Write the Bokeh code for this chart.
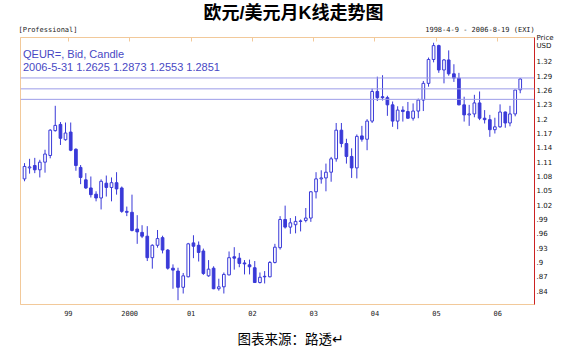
import pandas as pd
from bokeh.plotting import figure
from bokeh.models import (ColumnDataSource, Range1d, LinearAxis, FixedTicker,
                          CustomJSTickFormatter, Span, Label, Title)
from bokeh.embed import file_html
from bokeh.resources import INLINE

# ---------------- data (monthly EUR/USD candles, Apr 1998 - May 2006) ----------------
first_month = "1998-04-01"

opens = [
    1.076, 1.099, 1.104, 1.095, 1.111, 1.125, 1.177, 1.190, 1.158,
    1.174, 1.138, 1.100, 1.074, 1.057, 1.044, 1.036, 1.067, 1.058, 1.068, 1.057, 1.008,
    1.006, 0.971, 0.964, 0.956, 0.911, 0.937, 0.953, 0.927, 0.889, 0.883, 0.849, 0.871,
    0.942, 0.937, 0.925, 0.873, 0.889, 0.846, 0.850, 0.875, 0.913, 0.910, 0.900, 0.896,
    0.890, 0.859, 0.872, 0.871, 0.901, 0.932, 0.991, 0.975, 0.980, 0.988, 0.989, 0.994,
    1.049, 1.076, 1.078, 1.090, 1.118, 1.178, 1.150, 1.123, 1.099, 1.166, 1.159, 1.197,
    1.259, 1.248, 1.246, 1.231, 1.197, 1.220, 1.217, 1.203, 1.218, 1.241, 1.276, 1.326,
    1.355, 1.304, 1.325, 1.296, 1.287, 1.231, 1.210, 1.212, 1.235, 1.203, 1.200, 1.179,
    1.185, 1.216, 1.193, 1.212, 1.2625]
highs = [
    1.109, 1.118, 1.120, 1.116, 1.137, 1.180, 1.229, 1.195, 1.194,
    1.194, 1.140, 1.105, 1.088, 1.081, 1.050, 1.075, 1.083, 1.079, 1.090, 1.060, 1.018,
    1.043, 1.000, 0.979, 0.977, 0.939, 0.969, 0.957, 0.929, 0.897, 0.890, 0.879, 0.942,
    0.958, 0.945, 0.930, 0.906, 0.893, 0.867, 0.880, 0.924, 0.933, 0.921, 0.906, 0.907,
    0.904, 0.880, 0.883, 0.904, 0.940, 0.998, 1.020, 0.994, 0.998, 0.991, 1.015, 1.050,
    1.090, 1.094, 1.108, 1.122, 1.193, 1.193, 1.160, 1.140, 1.169, 1.187, 1.201, 1.265,
    1.290, 1.293, 1.250, 1.238, 1.228, 1.228, 1.237, 1.234, 1.244, 1.281, 1.330, 1.361,
    1.357, 1.327, 1.345, 1.316, 1.298, 1.248, 1.231, 1.252, 1.259, 1.220, 1.210, 1.204,
    1.232, 1.217, 1.229, 1.262, 1.2873]
lows = [
    1.071, 1.087, 1.088, 1.079, 1.089, 1.119, 1.175, 1.147, 1.156,
    1.134, 1.093, 1.065, 1.055, 1.037, 1.029, 1.012, 1.039, 1.029, 1.043, 1.005, 0.998,
    0.966, 0.940, 0.952, 0.904, 0.888, 0.932, 0.920, 0.886, 0.846, 0.822, 0.836, 0.870,
    0.910, 0.903, 0.875, 0.871, 0.845, 0.842, 0.836, 0.874, 0.886, 0.891, 0.876, 0.876,
    0.858, 0.857, 0.857, 0.870, 0.899, 0.928, 0.972, 0.961, 0.962, 0.966, 0.985, 0.986,
    1.035, 1.066, 1.050, 1.070, 1.112, 1.142, 1.108, 1.078, 1.077, 1.154, 1.136, 1.193,
    1.239, 1.240, 1.208, 1.185, 1.180, 1.196, 1.202, 1.198, 1.203, 1.218, 1.269, 1.320,
    1.298, 1.276, 1.292, 1.279, 1.230, 1.196, 1.187, 1.205, 1.199, 1.192, 1.164, 1.171,
    1.183, 1.183, 1.186, 1.207, 1.2553]
closes = [
    1.102, 1.101, 1.095, 1.111, 1.128, 1.178, 1.188, 1.161, 1.172,
    1.136, 1.104, 1.079, 1.057, 1.043, 1.036, 1.071, 1.058, 1.068, 1.055, 1.008, 1.006,
    0.968, 0.965, 0.956, 0.911, 0.937, 0.951, 0.927, 0.889, 0.885, 0.849, 0.873, 0.940,
    0.935, 0.922, 0.878, 0.887, 0.846, 0.850, 0.876, 0.911, 0.910, 0.899, 0.898, 0.892,
    0.859, 0.870, 0.871, 0.901, 0.933, 0.991, 0.975, 0.984, 0.987, 0.987, 0.994, 1.049,
    1.076, 1.078, 1.090, 1.118, 1.178, 1.150, 1.123, 1.099, 1.165, 1.159, 1.197, 1.259,
    1.246, 1.246, 1.231, 1.197, 1.220, 1.217, 1.203, 1.218, 1.241, 1.276, 1.326, 1.355,
    1.304, 1.325, 1.296, 1.287, 1.231, 1.210, 1.212, 1.235, 1.203, 1.200, 1.179, 1.185,
    1.216, 1.193, 1.212, 1.262, 1.2851]

year_ticks = ["1999-01-01", "2000-01-01", "2001-01-01", "2002-01-01",
              "2003-01-01", "2004-01-01", "2005-01-01", "2006-01-01"]
year_labels = ["99", "2000", "01", "02", "03", "04", "05", "06"]

y_ticks = [1.3636, 1.32, 1.29, 1.26, 1.23, 1.20, 1.17, 1.14, 1.11, 1.08, 1.05,
           1.02, 0.99, 0.96, 0.93, 0.90, 0.87, 0.84]
y_labels = ["Price\nUSD", "1.32", "1.29", "1.26", "1.23", "1.2", "1.17", "1.14", "1.11",
            "1.08", "1.05", "1.02", ".99", ".96", ".93", ".9", ".87", ".84"]

ref_lines = [1.2873, 1.2645, 1.2425]

title_text = "欧元/美元月K线走势图"
source_text = "图表来源：路透↵"
header_texts = ["[Professional]", "1998-4-9 - 2006-8-19 (EXI)"]
quote_name = "QEUR=, Bid, Candle"
quote_line = "2006-5-31 1.2625 1.2873 1.2553 1.2851"

# ---------------- styling / geometry ----------------
BLUE = "#3a3ad8"
TAN = "#f2c99a"
RED = "#cc2222"
LINE = "#9c9ce8"
X0, X1 = pd.Timestamp("1998-03-22"), pd.Timestamp("2006-08-08")
FRAME_L, FRAME_R = 20, 534
CJK = "Liberation Sans, Noto Sans CJK SC"

months = pd.date_range(first_month, periods=len(opens), freq="MS") + pd.Timedelta(days=14)
df = pd.DataFrame(dict(date=months, open=opens, high=highs, low=lows, close=closes))
df["top"] = df[["open", "close"]].max(axis=1)
df["bottom"] = df[["open", "close"]].min(axis=1)
up = ColumnDataSource(df[df.close >= df.open])
down = ColumnDataSource(df[df.close < df.open])
allsrc = ColumnDataSource(df)

tick_ms = [float(pd.Timestamp(t).value // 10**6) for t in year_ticks]
x0_ms, x1_ms = X0.value / 1e6, X1.value / 1e6
ms_per_px = (x1_ms - x0_ms) / (FRAME_R - FRAME_L)
# header text centres (pixel centre -> data position)
header_ms = [x0_ms + (47.5 - FRAME_L) * ms_per_px, x0_ms + (479.5 - FRAME_L) * ms_per_px]

p = figure(width=561, height=362, output_backend="svg", toolbar_location=None,
           x_axis_type=None, y_axis_type=None,
           x_range=Range1d(X0, X1), y_range=Range1d(0.813, 1.372),
           min_border_left=FRAME_L, min_border_right=561 - FRAME_R,
           min_border_top=35, min_border_bottom=58)
p.outline_line_color = TAN
p.outline_line_width = 1
p.background_fill_color = "white"
p.border_fill_color = "white"

for v in ref_lines:
    p.add_layout(Span(location=v, dimension="width", line_color=LINE, line_width=1))

bar_w = 16 * 24 * 3600 * 1000
p.segment(x0="date", y0="low", x1="date", y1="high", source=allsrc, line_color=BLUE, line_width=1)
p.vbar(x="date", width=bar_w, top="top", bottom="bottom", source=up,
       fill_color="white", line_color=BLUE, line_width=1)
p.vbar(x="date", width=bar_w, top="top", bottom="bottom", source=down,
       fill_color=BLUE, line_color=BLUE, line_width=1)

fmt_code = """
let best = 0;
for (let i = 0; i < tvals.length; i++) {
  if (Math.abs(tvals[i] - tick) < Math.abs(tvals[best] - tick)) best = i;
}
return tlabels[best];
"""


def quiet(ax):
    ax.major_tick_out = 0
    ax.major_tick_in = 0
    ax.minor_tick_out = 0
    ax.minor_tick_in = 0


# right price axis
ry = LinearAxis(ticker=FixedTicker(ticks=y_ticks),
                formatter=CustomJSTickFormatter(args=dict(tvals=y_ticks, tlabels=y_labels), code=fmt_code))
quiet(ry)
ry.axis_line_color = RED
ry.axis_line_width = 1
ry.major_label_standoff = 2
ry.major_label_text_font = "DejaVu Sans"
ry.major_label_text_font_size = "7px"
ry.major_label_text_color = "#111111"
ry.major_label_text_line_height = 1.0
p.add_layout(ry, "right")

# bottom year axis
bx = LinearAxis(ticker=FixedTicker(ticks=tick_ms),
                formatter=CustomJSTickFormatter(args=dict(tvals=tick_ms, tlabels=year_labels), code=fmt_code))
quiet(bx)
bx.axis_line_color = TAN
bx.major_label_standoff = 5
bx.major_label_text_font = "DejaVu Sans Mono"
bx.major_label_text_font_size = "7px"
bx.major_label_text_color = "#222222"
p.add_layout(bx, "below")

# top border: inward year ticks (minor) + header row labels (major)
hx = LinearAxis(ticker=FixedTicker(ticks=header_ms, minor_ticks=tick_ms),
                formatter=CustomJSTickFormatter(args=dict(tvals=header_ms, tlabels=header_texts), code=fmt_code))
quiet(hx)
hx.axis_line_color = TAN
hx.minor_tick_line_color = TAN
hx.minor_tick_in = 4
hx.major_label_standoff = 4
hx.major_label_text_font = "DejaVu Sans Mono"
hx.major_label_text_font_size = "7px"
hx.major_label_text_color = "#222222"
p.add_layout(hx, "above")

p.add_layout(Title(text=title_text, align="left", offset=183, text_font=CJK,
                   text_font_size="18px", text_font_style="bold", text_color="#000000",
                   standoff=0), "above")

p.add_layout(Title(text=source_text, align="left", offset=217, text_font=CJK,
                   text_font_size="13.5px", text_font_style="normal", text_color="#000000",
                   standoff=23), "below")


def add_label(text, x, y, size, color="#000000", font="DejaVu Sans", align="left"):
    p.add_layout(Label(x=x, y=y, x_units="screen", y_units="screen", text=text,
                       text_font=font, text_font_size=f"{size}px", text_color=color,
                       text_align=align, text_baseline="middle"))


add_label(quote_name, 2.5, 250.5, 11, color="#4848c4", font="Liberation Sans")
add_label(quote_line, 2.5, 237.5, 11, color="#4848c4", font="Liberation Sans")

open("out.html", "w").write(file_html(p, INLINE))
